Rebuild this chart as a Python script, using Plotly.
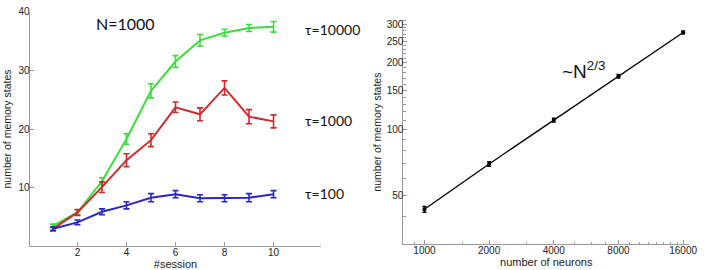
import plotly.graph_objects as go

# ---- left panel data ----
sessions = [1, 2, 3, 4, 5, 6, 7, 8, 9, 10]
tau10000 = [3.5, 5.8, 11.1, 18.3, 26.5, 31.5, 35.1, 36.4, 37.2, 37.4]
tau10000_err = [0.3, 0.4, 0.6, 0.9, 1.2, 1.0, 1.0, 0.6, 0.6, 0.9]
tau1000 = [3.0, 5.8, 10.1, 14.7, 18.1, 23.7, 22.5, 27.0, 22.1, 21.3]
tau1000_err = [0.3, 0.5, 0.9, 1.1, 1.1, 0.9, 1.1, 1.2, 1.2, 1.1]
tau100 = [3.0, 4.1, 5.9, 7.0, 8.3, 8.9, 8.2, 8.2, 8.3, 8.9]
tau100_err = [0.3, 0.4, 0.5, 0.6, 0.7, 0.6, 0.6, 0.6, 0.7, 0.6]
left_xticks = [2, 4, 6, 8, 10]
left_yticks = [10, 20, 30, 40]

# ---- right panel data ----
neurons = [1000, 2000, 4000, 8000, 16000]
mem_states = [43.3, 69.6, 110, 174, 275]
mem_err = [1.3, 1.6, 2.2, 3.0, 4.0]
right_xticks = [1000, 2000, 4000, 8000, 16000]
right_xticktext = ["1000", "2000", "4000", "8000", "16000"]
right_xminor = [900, 1500, 3000, 5000, 6000, 7000, 9000, 10000, 11000, 12000, 13000, 14000, 15000]
right_yticks = [50, 100, 150, 200, 250, 300]
right_yticktext = ["50", "100", "150", "200", "250", "300"]
right_yminor = [40, 60, 70, 80, 90, 110, 120, 130, 140, 160, 170, 180, 190,
                210, 220, 230, 240, 260, 270, 280, 290, 310]

W, H = 708, 270
FONT = "Liberation Sans, Arial, sans-serif"
AXC = "#9a9a9a"

fig = go.Figure()

series = [
    (tau10000, tau10000_err, "#3ddc3d", "τ=10000"),
    (tau1000, tau1000_err, "#cc2b2b", "τ=1000"),
    (tau100, tau100_err, "#2727c8", "τ=100"),
]
for vals, errs, col, name in series:
    fig.add_trace(go.Scatter(
        x=sessions, y=vals, mode="lines", name=name,
        line=dict(color=col, width=2),
        error_y=dict(type="data", array=errs, visible=True, color=col,
                     thickness=1.6, width=3),
        xaxis="x", yaxis="y", showlegend=False, hoverinfo="skip"))

fig.add_trace(go.Scatter(
    x=neurons, y=mem_states, mode="lines+markers",
    line=dict(color="black", width=1.3),
    marker=dict(color="black", size=4),
    error_y=dict(type="data", array=mem_err, visible=True, color="black",
                 thickness=1.5, width=2),
    xaxis="x2", yaxis="y2", showlegend=False, hoverinfo="skip"))

def px_x(p):
    return p / W

def px_y(p):
    return 1 - p / H

axis_common = dict(showline=True, linecolor=AXC, linewidth=1, mirror=False,
                   showgrid=False, zeroline=False, ticks="inside",
                   tickcolor=AXC, ticklen=4, tickwidth=1,
                   tickfont=dict(family=FONT, size=10, color="#222"))

fig.update_layout(
    width=W, height=H,
    margin=dict(l=0, r=0, t=0, b=0),
    paper_bgcolor="white", plot_bgcolor="white",
    font=dict(family=FONT, color="#222"),
    xaxis=dict(domain=[px_x(30), px_x(325)], range=[0.05, 11.95],
               tickvals=left_xticks, anchor="y", ticklabelstandoff=-3,
               title=dict(text="#session", font=dict(family=FONT, size=11, color="#222"), standoff=2),
               **axis_common),
    yaxis=dict(domain=[px_y(246), px_y(6.7)], range=[0, 40],
               tickvals=left_yticks, anchor="x", ticklabelstandoff=-3,
               title=dict(text="number of memory states", font=dict(family=FONT, size=10.5, color="#222"), standoff=4),
               **axis_common),
    xaxis2=dict(domain=[px_x(408), px_x(697)], type="log",
                range=[2.902, 4.232], tickvals=right_xticks, ticktext=right_xticktext,
                anchor="y2", ticklabelstandoff=-3,
                minor=dict(tickvals=right_xminor, ticks="inside", ticklen=2.5, tickcolor=AXC),
                title=dict(text="number of neurons", font=dict(family=FONT, size=11, color="#222"), standoff=2),
                **axis_common),
    yaxis2=dict(domain=[px_y(244), px_y(15)], type="log",
                range=[1.477, 2.497], tickvals=right_yticks, ticktext=right_yticktext,
                anchor="x2", ticklabelstandoff=-3,
                minor=dict(tickvals=right_yminor, ticks="inside", ticklen=2.5, tickcolor=AXC),
                title=dict(text="number of memory states", font=dict(family=FONT, size=10.5, color="#222"), standoff=3),
                **axis_common),
)

ann_font = dict(family="Lato, Liberation Sans, sans-serif", size=14, color="#111")
fig.add_annotation(text="N=1000", xref="paper", yref="paper",
                   x=px_x(127), y=px_y(19), xanchor="center", yanchor="middle",
                   showarrow=False, font=dict(family="Lato, sans-serif", size=16, color="#111"))
for txt, ypx in [("τ=10000", 25), ("τ=1000", 118), ("τ=100", 192)]:
    fig.add_annotation(text=txt, xref="paper", yref="paper",
                       x=px_x(306), y=px_y(ypx), xanchor="left", yanchor="middle",
                       showarrow=False, font=ann_font)
fig.add_annotation(text="~N<sup>2/3</sup>", xref="paper", yref="paper",
                   x=px_x(566), y=px_y(80), xanchor="left", yanchor="bottom",
                   showarrow=False,
                   font=dict(family=FONT, size=19, color="#111"))

fig.write_html("out.html",
               config={"displayModeBar": False, "staticPlot": True},
               post_script="document.body.style.margin='0';document.body.style.overflow='hidden';")
